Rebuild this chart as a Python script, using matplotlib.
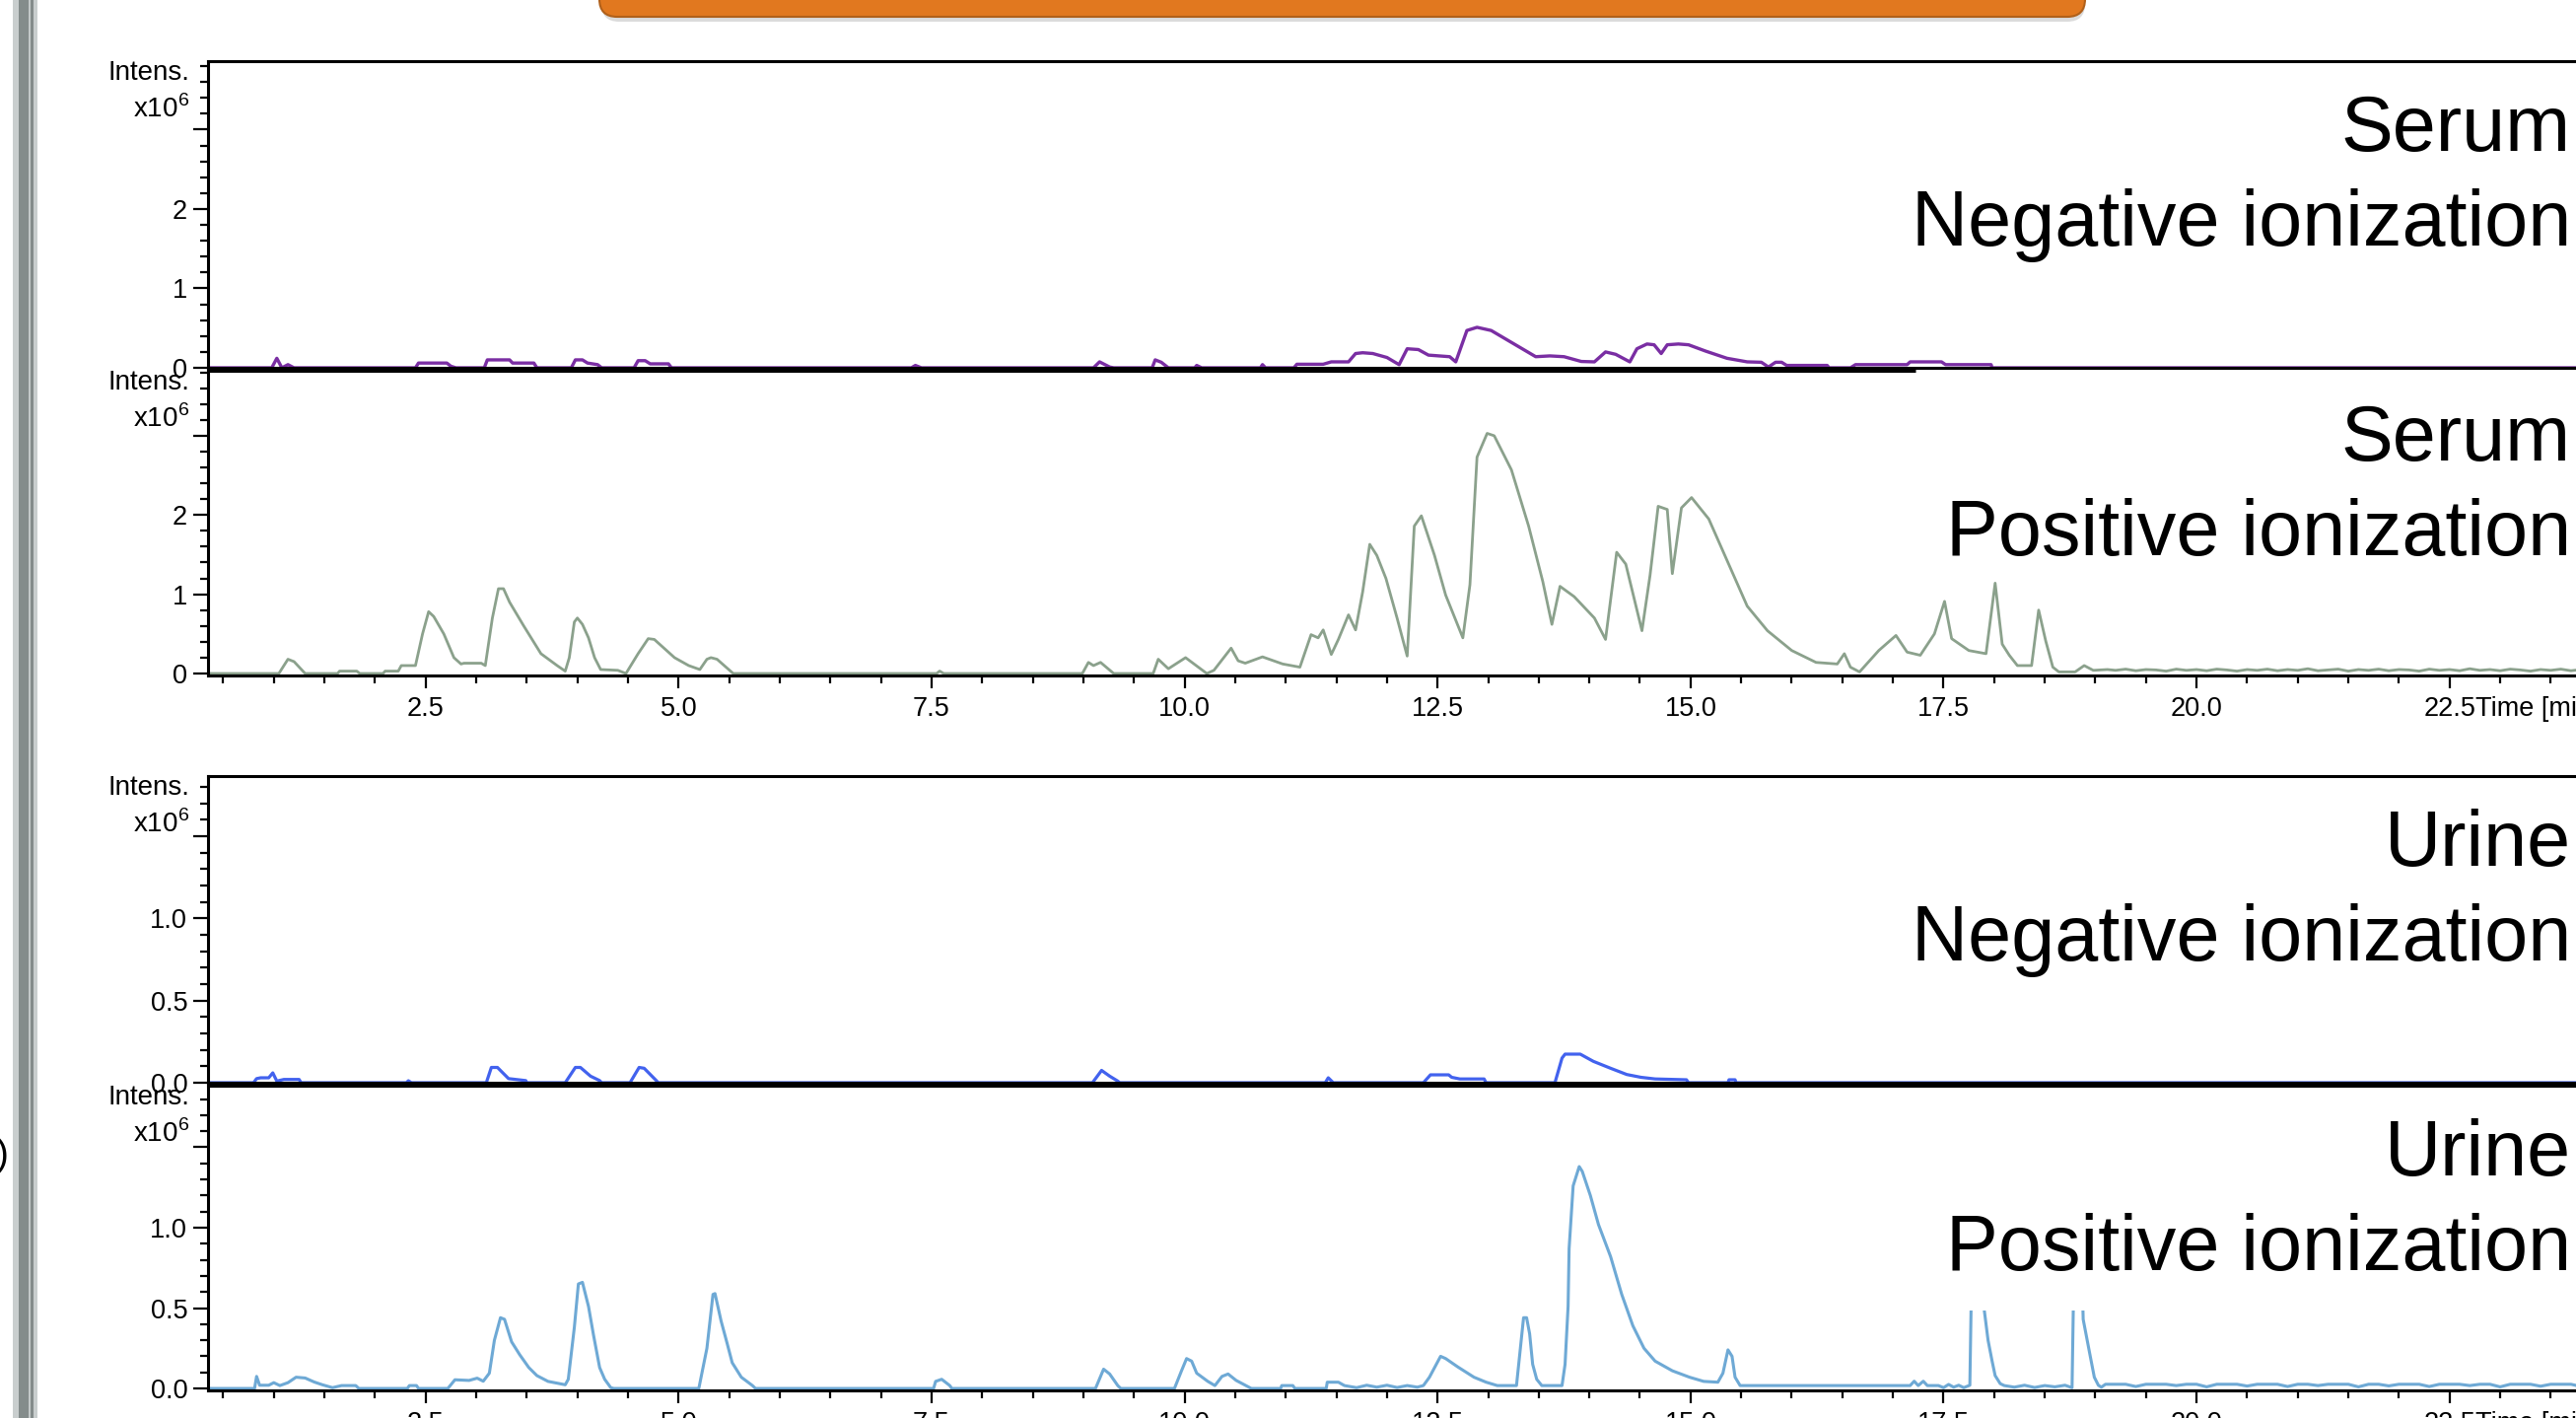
#! /usr/bin/env python
# -*- coding: utf-8 -*-

# Base peak chromatograms: serum / urine, negative / positive ionization

import matplotlib
matplotlib.use("Agg")
import matplotlib.pyplot as plt
import matplotlib.transforms as mtransforms
from matplotlib.patches import FancyBboxPatch, Rectangle
from matplotlib.ticker import FixedLocator, MultipleLocator

plt.rcParams['font.family'] = ['Liberation Sans', 'DejaVu Sans']
plt.rcParams['mathtext.fontset'] = 'custom'
plt.rcParams['mathtext.rm'] = 'Liberation Sans'

# ---------------------------------------------------------------------------
# data (time in min, intensity in x10^6)
# ---------------------------------------------------------------------------
serum_neg_t = [0.35, 0.98, 1.03, 1.08, 1.14, 1.2, 2.4, 2.43, 2.71, 2.75, 2.8,
               3.08, 3.11, 3.33, 3.36, 3.57, 3.6, 3.94, 3.98, 4.05, 4.1, 4.2, 4.24,
               4.56, 4.6, 4.67, 4.72, 4.9, 4.93, 7.3, 7.34, 7.4, 9.1, 9.16, 9.26, 9.3,
               9.68, 9.71, 9.77, 9.84, 10.1, 10.12, 10.17, 10.75, 10.77, 10.8,
               11.08, 11.11, 11.37, 11.45, 11.62, 11.69, 11.76, 11.86, 12.0, 12.12,
               12.2, 12.31, 12.41, 12.62, 12.68, 12.79, 12.89, 13.03, 13.23, 13.47,
               13.61, 13.75, 13.92, 14.05, 14.16, 14.26, 14.4, 14.47, 14.57, 14.64,
               14.71, 14.77, 14.88, 14.98, 15.15, 15.36, 15.56, 15.7, 15.77, 15.84,
               15.9, 15.95, 16.35, 16.37, 16.58, 16.63, 17.14, 17.17, 17.48, 17.52,
               17.97, 17.98, 25.0]
serum_neg_i = [0, 0, 0.12, 0, 0.04, 0, 0, 0.06, 0.06, 0.02, 0,
               0, 0.1, 0.1, 0.06, 0.06, 0, 0, 0.1, 0.1, 0.06, 0.04, 0,
               0, 0.09, 0.09, 0.05, 0.05, 0, 0, 0.03, 0, 0, 0.075, 0.01, 0,
               0, 0.1, 0.07, 0, 0, 0.03, 0, 0, 0.04, 0,
               0, 0.045, 0.045, 0.075, 0.075, 0.18, 0.19, 0.18, 0.13, 0.04,
               0.24, 0.23, 0.16, 0.14, 0.075, 0.47, 0.51, 0.47, 0.32, 0.14,
               0.15, 0.14, 0.08, 0.075, 0.2, 0.17, 0.075, 0.24, 0.3, 0.29,
               0.18, 0.29, 0.3, 0.29, 0.21, 0.12, 0.075, 0.07, 0.01, 0.07,
               0.07, 0.03, 0.03, 0, 0, 0.04, 0.04, 0.075, 0.075, 0.04,
               0.04, 0, 0]

serum_pos_t = [0.35, 1.05, 1.14, 1.2, 1.31, 1.63, 1.65, 1.82, 1.85, 2.08, 2.1, 2.23,
               2.26, 2.4, 2.47, 2.53, 2.58, 2.68, 2.78, 2.85, 2.88, 3.05, 3.09, 3.16,
               3.22, 3.27, 3.33, 3.47, 3.64, 3.8, 3.88, 3.92, 3.97, 4.0, 4.05, 4.11,
               4.17, 4.23, 4.4, 4.48, 4.6, 4.7, 4.76, 4.96, 5.1, 5.21, 5.28, 5.32,
               5.38, 5.54, 7.55, 7.58, 7.62, 8.99, 9.05, 9.1, 9.17, 9.3, 9.69, 9.74,
               9.84, 10.01, 10.22, 10.29, 10.46, 10.53, 10.6, 10.77, 10.97, 11.14,
               11.25, 11.32, 11.37, 11.45, 11.52, 11.62, 11.69, 11.76, 11.83, 11.9,
               11.99, 12.1, 12.2, 12.27, 12.34, 12.47, 12.58, 12.75, 12.82, 12.89,
               12.99, 13.06, 13.23, 13.4, 13.54, 13.63, 13.71, 13.85, 14.05, 14.16,
               14.27, 14.36, 14.52, 14.6, 14.68, 14.77, 14.82, 14.91, 15.01, 15.18,
               15.38, 15.56, 15.76, 16.0, 16.24, 16.45, 16.52, 16.58, 16.67, 16.86,
               17.03, 17.14, 17.27, 17.41, 17.51, 17.58, 17.75, 17.92, 18.01, 18.08,
               18.15, 18.23, 18.37, 18.44, 18.51, 18.58, 18.64, 18.8, 18.89, 18.98,
               19.12]
serum_pos_i = [0, 0, 0.18, 0.15, 0, 0, 0.03, 0.03, 0, 0, 0.03, 0.03,
               0.1, 0.1, 0.5, 0.78, 0.72, 0.5, 0.2, 0.12, 0.13, 0.13, 0.1, 0.7,
               1.07, 1.07, 0.9, 0.6, 0.25, 0.1, 0.03, 0.2, 0.65, 0.7, 0.62, 0.45,
               0.2, 0.05, 0.04, 0, 0.25, 0.44, 0.43, 0.2, 0.1, 0.05, 0.18, 0.2,
               0.18, 0, 0, 0.03, 0, 0, 0.14, 0.1, 0.14, 0, 0, 0.18,
               0.06, 0.2, 0, 0.04, 0.32, 0.16, 0.13, 0.21, 0.12, 0.08,
               0.49, 0.45, 0.55, 0.24, 0.43, 0.74, 0.55, 1.03, 1.63, 1.49,
               1.2, 0.7, 0.22, 1.86, 1.99, 1.49, 0.99, 0.45, 1.12, 2.73,
               3.03, 3.0, 2.57, 1.86, 1.16, 0.62, 1.1, 0.97, 0.7, 0.43,
               1.53, 1.38, 0.54, 1.24, 2.11, 2.07, 1.26, 2.09, 2.22, 1.95,
               1.37, 0.85, 0.54, 0.29, 0.14, 0.12, 0.25, 0.08, 0.02, 0.29,
               0.48, 0.27, 0.23, 0.5, 0.91, 0.44, 0.29, 0.25, 1.14, 0.37,
               0.23, 0.1, 0.1, 0.8, 0.41, 0.08, 0.02, 0.02, 0.1, 0.04,
               0.05]

# noisy baseline at the end of the runs
tail_t = [19.2, 19.3, 19.4, 19.5, 19.6, 19.7, 19.8, 19.9, 20.0, 20.1,
          20.2, 20.3, 20.4, 20.5, 20.6, 20.7, 20.8, 20.9, 21.0, 21.1,
          21.2, 21.3, 21.4, 21.5, 21.6, 21.7, 21.8, 21.9, 22.0, 22.1,
          22.2, 22.3, 22.4, 22.5, 22.6, 22.7, 22.8, 22.9, 23.0, 23.1,
          23.2, 23.3, 23.4, 23.5, 23.6, 23.7, 23.8, 23.9, 24.0, 24.1,
          24.2, 24.3, 24.4, 24.5, 24.6, 24.7, 24.8, 24.9, 25.0]
serum_pos_tail = [0.04, 0.055, 0.035, 0.05, 0.045, 0.03, 0.055, 0.04, 0.05, 0.035,
                  0.055, 0.045, 0.03, 0.05, 0.04, 0.055, 0.035, 0.05, 0.04, 0.06,
                  0.035, 0.045, 0.055, 0.03, 0.05, 0.04, 0.055, 0.035, 0.05, 0.045,
                  0.03, 0.055, 0.04, 0.05, 0.035, 0.06, 0.04, 0.05, 0.035, 0.055,
                  0.045, 0.03, 0.05, 0.04, 0.055, 0.035, 0.05, 0.045, 0.03, 0.055,
                  0.04, 0.05, 0.035, 0.055, 0.045, 0.035, 0.05, 0.04, 0.05]

urine_neg_t = [0.35, 0.8, 0.83, 0.87, 0.95, 0.99, 1.03, 1.1, 1.25, 1.27, 2.31, 2.33,
               2.36, 3.1, 3.15, 3.21, 3.32, 3.49, 3.5, 3.88, 3.98, 4.03, 4.13, 4.22,
               4.24, 4.52, 4.61, 4.66, 4.78, 4.8, 9.09, 9.18, 9.26, 9.34, 9.36, 11.39,
               11.42, 11.47, 12.36, 12.43, 12.61, 12.64, 12.72, 12.96, 12.98, 13.66,
               13.73, 13.76, 13.91, 14.04, 14.21, 14.37, 14.51, 14.65, 14.96, 14.98,
               15.37, 15.38, 15.44, 15.45, 25.0]
urine_neg_i = [0, 0, 0.025, 0.03, 0.03, 0.06, 0.01, 0.02, 0.02, 0, 0, 0.012,
               0, 0, 0.093, 0.093, 0.025, 0.013, 0, 0, 0.093, 0.093, 0.04, 0.013,
               0, 0, 0.093, 0.088, 0.013, 0, 0, 0.075, 0.04, 0.01, 0, 0,
               0.03, 0, 0, 0.048, 0.048, 0.033, 0.023, 0.023, 0, 0,
               0.15, 0.174, 0.174, 0.13, 0.088, 0.05, 0.033, 0.023, 0.018, 0,
               0, 0.018, 0.018, 0, 0]

urine_pos_t = [0.35, 0.81, 0.83, 0.86, 0.95, 1.0, 1.06, 1.14, 1.22, 1.31, 1.4, 1.48,
               1.58, 1.67, 1.81, 1.84, 2.32, 2.34, 2.41, 2.43, 2.72, 2.79, 2.93, 3.01,
               3.07, 3.13, 3.18, 3.24, 3.28, 3.35, 3.43, 3.52, 3.6, 3.71, 3.88, 3.91,
               3.97, 4.01, 4.05, 4.11, 4.16, 4.22, 4.27, 4.33, 4.36, 5.2, 5.28, 5.34,
               5.36, 5.42, 5.48, 5.53, 5.62, 5.73, 5.76, 7.52, 7.54, 7.6, 7.68, 7.7,
               9.12, 9.2, 9.26, 9.34, 9.37, 9.9, 9.97, 10.02, 10.07, 10.12, 10.23,
               10.3, 10.37, 10.43, 10.51, 10.63, 10.66, 10.95, 10.96, 11.07, 11.09,
               11.4, 11.41, 11.52, 11.58, 11.7, 11.8, 11.9, 12.0, 12.1, 12.2, 12.3,
               12.36, 12.42, 12.53, 12.58, 12.7, 12.86, 12.98, 13.09, 13.28, 13.31,
               13.35, 13.38, 13.41, 13.44, 13.48, 13.53, 13.73, 13.76, 13.79, 13.8,
               13.84, 13.9, 13.93, 14.01, 14.09, 14.21, 14.32, 14.43, 14.54, 14.65,
               14.82, 14.99, 15.13, 15.27, 15.32, 15.37, 15.41, 15.44, 15.49, 17.17,
               17.21, 17.25, 17.3, 17.34, 17.45, 17.5, 17.55, 17.6, 17.65, 17.7,
               17.76, 17.79, 17.84, 17.9, 17.92, 17.94, 17.98, 18.01, 18.06, 18.1,
               18.2, 18.3, 18.4, 18.5, 18.6, 18.7, 18.77, 18.8, 18.85, 18.88, 18.91,
               18.95, 18.99, 19.03, 19.06, 19.1]
urine_pos_i = [0, 0, 0.075, 0.02, 0.02, 0.036, 0.018, 0.036, 0.07, 0.065, 0.04, 0.023,
               0.005, 0.018, 0.018, 0, 0, 0.018, 0.018, 0, 0, 0.054, 0.05, 0.064,
               0.045, 0.095, 0.3, 0.44, 0.43, 0.29, 0.21, 0.13, 0.08, 0.044, 0.023, 0.057,
               0.38, 0.65, 0.66, 0.51, 0.33, 0.13, 0.057, 0.005, 0, 0, 0.25, 0.585,
               0.59, 0.42, 0.28, 0.16, 0.07, 0.018, 0, 0, 0.044, 0.057, 0.018, 0,
               0, 0.12, 0.09, 0.018, 0, 0, 0.11, 0.186, 0.17, 0.095, 0.044,
               0.018, 0.075, 0.09, 0.05, 0.01, 0, 0, 0.018, 0.018, 0,
               0, 0.039, 0.039, 0.018, 0.005, 0.02, 0.008, 0.02, 0.006, 0.018, 0.008,
               0.018, 0.07, 0.2, 0.186, 0.134, 0.07, 0.039, 0.018, 0.018, 0.2,
               0.44, 0.44, 0.34, 0.15, 0.057, 0.018, 0.018, 0.15, 0.51, 0.87,
               1.26, 1.38, 1.35, 1.2, 1.02, 0.82, 0.585, 0.39, 0.25, 0.17,
               0.11, 0.07, 0.044, 0.039, 0.095, 0.24, 0.2, 0.07, 0.018, 0.018,
               0.045, 0.018, 0.045, 0.018, 0.018, 0.005, 0.025, 0.008, 0.02, 0.005,
               0.02, 1.2, 1.2, 0.5, 0.4, 0.3, 0.17, 0.08, 0.03, 0.018,
               0.008, 0.02, 0.006, 0.018, 0.01, 0.02, 0.005, 1.2, 1.2, 0.43, 0.33,
               0.2, 0.07, 0.02, 0.008, 0.026]
urine_pos_tail = [0.026, 0.026, 0.012, 0.026, 0.026, 0.026, 0.018, 0.026, 0.026, 0.01,
                  0.026, 0.026, 0.026, 0.015, 0.026, 0.026, 0.026, 0.012, 0.026, 0.026,
                  0.018, 0.026, 0.026, 0.026, 0.01, 0.026, 0.026, 0.016, 0.026, 0.026,
                  0.026, 0.012, 0.026, 0.026, 0.026, 0.018, 0.026, 0.026, 0.01, 0.026,
                  0.026, 0.026, 0.014, 0.026, 0.026, 0.026, 0.012, 0.026, 0.026, 0.018,
                  0.026, 0.026, 0.026, 0.01, 0.026, 0.026, 0.016, 0.026, 0.026]

sample_names = ['Serum', 'Serum', 'Urine', 'Urine']
mode_names = ['Negative ionization', 'Positive ionization',
              'Negative ionization', 'Positive ionization']
x_major = [2.5, 5.0, 7.5, 10.0, 12.5, 15.0, 17.5, 20.0, 22.5, 25.0]
x_labels = ['2.5', '5.0', '7.5', '10.0', '12.5', '15.0', '17.5', '20.0', '22.5', '25.0']
serum_yticks = [0, 1, 2, 3]
serum_ylabels = ['0', '1', '2', '']
urine_yticks = [0.0, 0.5, 1.0, 1.5]
urine_ylabels = ['0.0', '0.5', '1.0', '']

# ---------------------------------------------------------------------------
# layout (pixel geometry of the figure)
# ---------------------------------------------------------------------------
W, H = 2613, 1438
fig = plt.figure(figsize=(W / 100, H / 100), dpi=100)


def fx(px):
    return px / W


def fy(py):
    return 1 - py / H


xmin, xmax = 0.35, 25.0
px_per_min = 102.65
ax_left = 211
ax_w = (xmax - xmin) * px_per_min

# top px, bottom px, ylim
panels = [
    dict(top=62, bot=373, ylim=(0, 3.863), t=serum_neg_t, i=serum_neg_i,
         color='#7A2EA3', lw=2.4, xt=False, yt=serum_yticks, yl=serum_ylabels, minor=0.2),
    dict(top=376, bot=685, ylim=(-0.025, 3.82), t=serum_pos_t + tail_t, i=serum_pos_i + serum_pos_tail,
         color='#8BA18C', lw=2.0, xt=True, yt=serum_yticks, yl=serum_ylabels, minor=0.2),
    dict(top=787, bot=1098, ylim=(0, 1.866), t=urine_neg_t, i=urine_neg_i,
         color='#4262EE', lw=2.3, xt=False, yt=urine_yticks, yl=urine_ylabels, minor=0.1),
    dict(top=1101, bot=1410, ylim=(-0.012, 1.883), t=urine_pos_t + tail_t, i=urine_pos_i + urine_pos_tail,
         color='#6EA9D5', lw=2.2, xt=True, yt=urine_yticks, yl=urine_ylabels, minor=0.1),
]

for k, p in enumerate(panels):
    ax = fig.add_axes([fx(ax_left), fy(p['bot']), ax_w / W, (p['bot'] - p['top']) / H])
    ax.plot(p['t'], p['i'], color=p['color'], lw=p['lw'], zorder=2)
    ax.set_xlim(xmin, xmax)
    ax.set_ylim(*p['ylim'])
    for s in ax.spines.values():
        s.set_linewidth(2.2)
    ax.spines['right'].set_visible(False)

    ax.yaxis.set_major_locator(FixedLocator(p['yt']))
    ax.set_yticklabels(p['yl'])
    ax.yaxis.set_minor_locator(MultipleLocator(p['minor']))
    ax.tick_params(axis='y', which='major', length=11, width=1.6, pad=4, labelsize=19.5)
    ax.tick_params(axis='y', which='minor', length=6, width=1.6)

    if p['xt']:
        ax.xaxis.set_major_locator(FixedLocator(x_major))
        ax.set_xticklabels(x_labels)
        ax.xaxis.set_minor_locator(MultipleLocator(0.5))
        ax.tick_params(axis='x', which='major', length=9, width=1.6, pad=6, labelsize=19.5)
        ax.tick_params(axis='x', which='minor', length=6, width=1.6)
        ax.annotate('Time [min]', xy=(22.5, 0), xycoords=('data', 'axes fraction'),
                    xytext=(19, -15), textcoords='offset points',
                    ha='left', va='top', fontsize=19.5)
    else:
        ax.set_xticks([])

    # serum positive: top border only doubled up to ~17.2 min
    if k == 1:
        ax.spines['top'].set_visible(False)
        ax.plot([xmin, 17.22], [1, 1], color='black', lw=2.2, clip_on=False,
                transform=mtransforms.blended_transform_factory(ax.transData, ax.transAxes),
                solid_capstyle='butt')

    # axis title in the corner
    fig.text(fx(192), fy(p['top'] + 19), 'Intens.', ha='right', va='baseline', fontsize=20)
    fig.text(fx(192), fy(p['top'] + 57), r'x10$^{6}$', ha='right', va='baseline', fontsize=20)

    # panel annotation on the right
    fig.text(fx(2608), fy(p['top'] + 91), sample_names[k], ha='right', va='baseline', fontsize=57)
    box = None
    if k == 3:
        box = dict(boxstyle='square,pad=0.3', facecolor='white', edgecolor='none')
    fig.text(fx(2608), fy(p['top'] + 187), mode_names[k], ha='right', va='baseline',
             fontsize=57, bbox=box)

# ---------------------------------------------------------------------------
# slide decorations: orange banner at top, gray bar at left
# ---------------------------------------------------------------------------
px = mtransforms.IdentityTransform()
shadow = FancyBboxPatch((610, H - 22), 1505, 80, boxstyle='round,pad=0,rounding_size=18',
                        facecolor='#9a9a9a', edgecolor='none', alpha=0.35, transform=px)
banner = FancyBboxPatch((608, H - 17), 1507, 80, boxstyle='round,pad=0,rounding_size=18',
                        facecolor='#E1781F', edgecolor='#B0601A', lw=1.5, transform=px)
fig.add_artist(shadow)
fig.add_artist(banner)

for x0, x1, c in [(13, 38, '#c9cece'), (19, 34, '#848c8b'), (29, 31, '#c3c8c8')]:
    fig.add_artist(Rectangle((fx(x0), 0), fx(x1 - x0), 1, transform=fig.transFigure,
                             facecolor=c, edgecolor='none'))

fig.text(fx(-4), fy(1172), ')', ha='left', va='center', fontsize=28)

plt.savefig('out.png', dpi=100)
